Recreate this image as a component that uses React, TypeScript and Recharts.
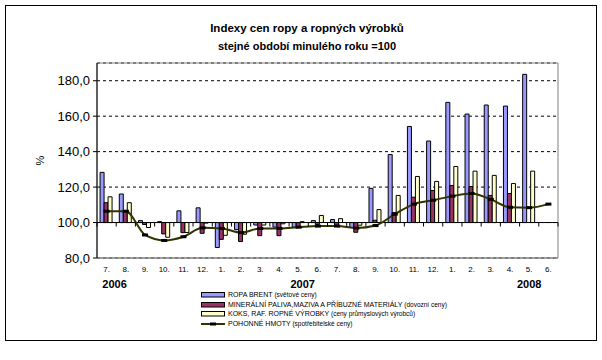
import React from "react";
import {
  ComposedChart,
  Bar,
  Line,
  XAxis,
  YAxis,
  CartesianGrid,
  ReferenceLine,
  ReferenceArea,
} from "recharts";

const months = [
  "7.", "8.", "9.", "10.", "11.", "12.",
  "1.", "2.", "3.", "4.", "5.", "6.", "7.", "8.", "9.", "10.", "11.", "12.",
  "1.", "2.", "3.", "4.", "5.", "6.",
];
const years = [
  "2006", "", "", "", "", "", "", "", "", "", "2007", "", "", "", "", "", "", "", "", "", "", "", "2008", "",
];
const brent = [
  128.3, 116.1, 101.1, 100.5, 106.6, 108.3, 85.9, 96.0, 98.6, 97.4, 97.4, 101.1,
  101.7, 97.2, 119.3, 138.4, 154.2, 146.0, 167.8, 161.2, 166.3, 165.7, 183.6, null,
];
const paliva = [
  111.2, 106.5, 98.9, 93.6, 94.3, 93.9, 90.5, 89.3, 92.6, 92.6, 97.8, 98.9,
  98.5, 94.5, 101.3, 105.6, 114.3, 118.1, 120.9, 120.3, 115.3, 116.4, null, null,
];
const koks = [
  114.5, 111.2, 97.2, 91.7, 94.4, 99.7, 92.8, 93.4, 98.6, 99.3, 100.5, 104.0,
  102.2, 98.5, 107.3, 115.3, 126.0, 123.2, 131.6, 129.0, 126.6, 122.0, 129.0, null,
];
const pohonne = [
  106.4, 106.4, 93.0, 89.9, 92.0, 97.0, 96.7, 94.3, 96.7, 96.7, 97.4, 98.0,
  98.0, 96.9, 98.3, 104.7, 110.4, 112.6, 114.9, 116.4, 113.1, 108.6, 108.4, 110.4,
];
const yTicks = [80, 100, 120, 140, 160, 180];

const seriesNames = [
  ["ROPA BRENT", "(světové ceny)"],
  ["MINERÁLNÍ PALIVA,MAZIVA A PŘÍBUZNÉ MATERIÁLY", "(dovozní ceny)"],
  ["KOKS, RAF. ROPNÉ VÝROBKY", "(ceny průmyslových výrobců)"],
  ["POHONNÉ HMOTY", "(spotřebitelské ceny)"],
];

const BLUE = "#9999FF";
const MAROON = "#993366";
const CREAM = "#FFFFCC";
const OLIVE = "#333300";
const FONT = "'Liberation Sans', Arial, sans-serif";

const Y_MIN = 80;
const Y_MAX = 190;
const BASE = 100;
const PLOT_TOP = 63;
const PLOT_H = 195;

const data = months.map((m, i) => ({
  id: String(i),
  month: m,
  year: years[i],
  brent: brent[i],
  paliva: paliva[i],
  koks: koks[i],
  pohonne: pohonne[i],
}));

// bars hang from the 100 line, not from the bottom of the axis
const fromBase = (key: "brent" | "paliva" | "koks") => (d: any) =>
  d[key] == null ? null : [BASE, d[key]];

const yearShift: Record<string, number> = { "2006": 8, "2007": 4, "2008": 0 };

function MonthTick(props: any) {
  const { x, y, payload } = props;
  const i = Number(payload.value);
  const half = payload.offset ?? 0;
  const y100 = PLOT_TOP + ((Y_MAX - BASE) / (Y_MAX - Y_MIN)) * PLOT_H;
  const yr = years[i];
  return (
    <g>
      <line x1={x - half} x2={x - half} y1={y100} y2={y100 + 4} stroke="#000" />
      {i === months.length - 1 && (
        <line x1={x + half} x2={x + half} y1={y100} y2={y100 + 4} stroke="#000" />
      )}
      <text x={x} y={y + 14} textAnchor="middle" fontSize={8} fontFamily={FONT} fill="#000">
        {months[i]}
      </text>
      {yr && (
        <text
          x={x + yearShift[yr]}
          y={y + 30}
          textAnchor="middle"
          fontSize={11}
          fontWeight="bold"
          fontFamily={FONT}
          fill="#000"
        >
          {yr}
        </text>
      )}
    </g>
  );
}

function DashDot(p: any) {
  if (p.cx == null || p.cy == null) return <g />;
  return <rect x={p.cx - 3} y={p.cy - 1.5} width={6} height={3} fill="#000" />;
}

function PercentLabel(p: any) {
  const vb = p.viewBox || {};
  const cx = vb.x + 3;
  const cy = vb.y + vb.height / 2;
  return (
    <text
      x={cx}
      y={cy}
      transform={`rotate(-90 ${cx} ${cy})`}
      textAnchor="middle"
      dominantBaseline="central"
      fontSize={11}
      fontFamily={FONT}
      fill="#000"
    >
      %
    </text>
  );
}

function Swatch({ i }: { i: number }) {
  if (i === 3) {
    return (
      <svg width={24} height={8}>
        <line x1={0} x2={24} y1={4} y2={4} stroke={OLIVE} strokeWidth={2} />
        <rect x={9} y={2.5} width={6} height={3} fill="#000" />
      </svg>
    );
  }
  const fill = [BLUE, MAROON, CREAM][i];
  return (
    <svg width={24} height={8}>
      <rect x={0.5} y={1.5} width={23} height={4.5} fill={fill} stroke="#000" />
    </svg>
  );
}

export default function App() {
  return (
    <div style={{ position: "relative", width: 602, height: 360, background: "#fff" }}>
      <style>{"body{margin:0}"}</style>
      <div
        style={{
          position: "absolute",
          left: 5,
          top: 5,
          width: 590,
          height: 334,
          border: "1px solid #000",
        }}
      />
      <div
        style={{
          position: "absolute",
          left: 0,
          width: 614,
          top: 20,
          textAlign: "center",
          fontFamily: FONT,
          fontWeight: "bold",
          color: "#000",
        }}
      >
        <div style={{ fontSize: 11.5, lineHeight: "16px" }}>Indexy cen ropy a ropných výrobků</div>
        <div style={{ fontSize: 11, lineHeight: "16px", marginTop: 2 }}>
          stejné období minulého roku =100
        </div>
      </div>
      <ComposedChart
        width={602}
        height={360}
        data={data}
        margin={{ top: PLOT_TOP, right: 44, bottom: 72, left: 37 }}
        barCategoryGap="16%"
        barGap={0}
        style={{ position: "absolute", left: 0, top: 0 }}
      >
        <CartesianGrid
          horizontal
          vertical={false}
          stroke="#000"
          strokeDasharray="3 3"
        />
        <ReferenceArea y1={Y_MIN} y2={Y_MAX} fill="none" stroke="#808080" strokeWidth={1} />
        <XAxis
          dataKey="id"
          interval={0}
          height={30}
          tickSize={0}
          tickMargin={0}
          tickLine={false}
          axisLine={{ stroke: "#808080" }}
          tick={(p: any) => <MonthTick {...p} />}
        />
        <YAxis
          domain={[Y_MIN, Y_MAX]}
          ticks={yTicks}
          allowDataOverflow
          width={60}
          tickSize={4}
          tickMargin={3}
          tickLine={{ stroke: "#000" }}
          axisLine={{ stroke: "#000" }}
          tick={{ fontSize: 13, fontFamily: FONT, fill: "#000" }}
          tickFormatter={(v: number) => v.toFixed(1).replace(".", ",")}
          label={<PercentLabel />}
        />
        <Bar dataKey={fromBase("brent")} fill={BLUE} stroke="#000" strokeWidth={1} isAnimationActive={false} />
        <Bar dataKey={fromBase("paliva")} fill={MAROON} stroke="#000" strokeWidth={1} isAnimationActive={false} />
        <Bar dataKey={fromBase("koks")} fill={CREAM} stroke="#000" strokeWidth={1} isAnimationActive={false} />
        <ReferenceLine y={BASE} stroke="#000" strokeWidth={1} />
        <Line
          type="monotone"
          dataKey="pohonne"
          stroke={OLIVE}
          strokeWidth={2}
          dot={<DashDot />}
          activeDot={false}
          isAnimationActive={false}
        />
      </ComposedChart>
      <div
        style={{
          position: "absolute",
          left: 201,
          top: 290,
          fontFamily: FONT,
          fontSize: 7,
          color: "#000",
          lineHeight: "9.7px",
        }}
      >
        {seriesNames.map(([name, note], i) => (
          <div key={i} style={{ display: "flex", alignItems: "center", height: 9.7, whiteSpace: "nowrap" }}>
            <Swatch i={i} />
            <span style={{ marginLeft: 3 }}>
              {name} <span style={{ fontSize: 6.5 }}>{note}</span>
            </span>
          </div>
        ))}
      </div>
    </div>
  );
}
